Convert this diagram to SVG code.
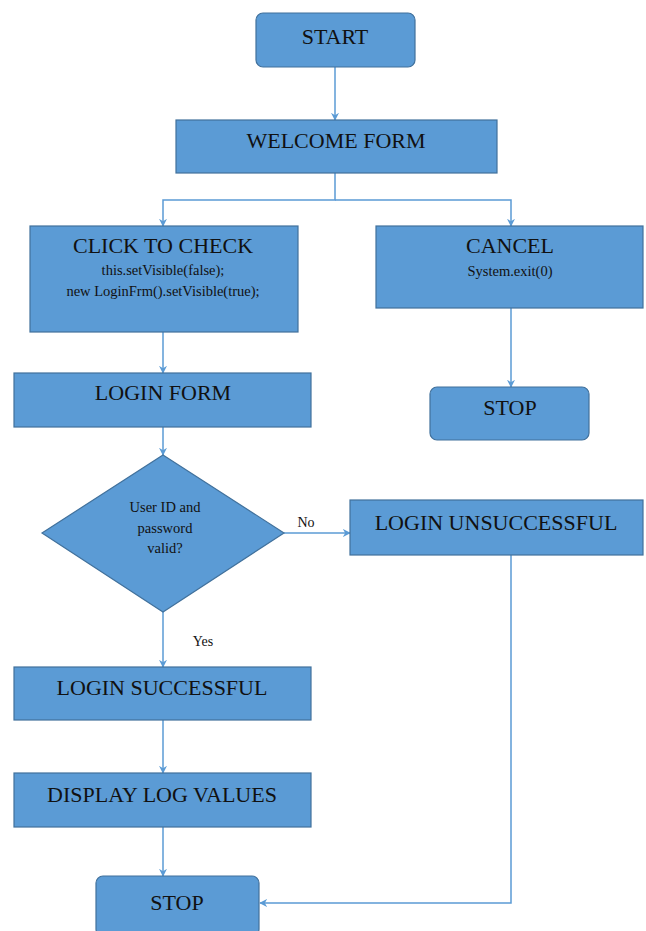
<svg xmlns="http://www.w3.org/2000/svg" width="646" height="931" viewBox="0 0 646 931">
<style>
.n{fill:#5b9bd5;stroke:#41719c;stroke-width:1.2}
.t{font-family:"Liberation Serif","Times New Roman",serif;font-size:22px;fill:#111;text-anchor:middle}
.c{font-family:"Liberation Serif","Times New Roman",serif;font-size:14.5px;fill:#111;text-anchor:middle}
.l{font-family:"Liberation Serif","Times New Roman",serif;font-size:14px;fill:#111;text-anchor:middle}
.e{fill:none;stroke:#5b9bd5;stroke-width:1.5}
</style>
<defs>
<marker id="a" viewBox="0 0 10 10" refX="9" refY="5" markerWidth="8" markerHeight="8" markerUnits="userSpaceOnUse" orient="auto">
<path d="M0,0 L10,5 L0,10 L3,5 z" fill="#5b9bd5"/>
</marker>
</defs>
<rect width="646" height="931" fill="#fff"/>
<g id="connectors">
<path class="e" d="M335,67 V120" marker-end="url(#a)"/>
<path class="e" d="M335,173 V200 H163 V226" marker-end="url(#a)"/>
<path class="e" d="M335,200 H511 V226" marker-end="url(#a)"/>
<path class="e" d="M511,308 V387" marker-end="url(#a)"/>
<path class="e" d="M163,332 V373" marker-end="url(#a)"/>
<path class="e" d="M163,427 V455" marker-end="url(#a)"/>
<path class="e" d="M284,533 H350" marker-end="url(#a)"/>
<path class="e" d="M163,612 V667" marker-end="url(#a)"/>
<path class="e" d="M163,720 V773" marker-end="url(#a)"/>
<path class="e" d="M163,827 V876" marker-end="url(#a)"/>
<path class="e" d="M511,555 V903 H260" marker-end="url(#a)"/>
<text class="l" x="306" y="527">No</text>
<text class="l" x="203" y="646">Yes</text>
</g>
<g id="start">
<rect class="n" x="256" y="13" width="159" height="54" rx="7"/>
<text class="t" x="335" y="44">START</text>
</g>
<g id="welcome">
<rect class="n" x="176" y="120" width="321" height="53"/>
<text class="t" x="336" y="148">WELCOME FORM</text>
</g>
<g id="click">
<rect class="n" x="30" y="226" width="268" height="106"/>
<text class="t" x="163" y="253">CLICK TO CHECK</text>
<text class="c" x="163" y="275">this.setVisible(false);</text>
<text class="c" x="163" y="296">new LoginFrm().setVisible(true);</text>
</g>
<g id="cancel">
<rect class="n" x="376" y="226" width="267" height="82"/>
<text class="t" x="510" y="253">CANCEL</text>
<text class="c" x="510" y="276">System.exit(0)</text>
</g>
<g id="stop1">
<rect class="n" x="430" y="387" width="159" height="53" rx="7"/>
<text class="t" x="510" y="415">STOP</text>
</g>
<g id="loginform">
<rect class="n" x="14" y="373" width="297" height="54"/>
<text class="t" x="163" y="400">LOGIN FORM</text>
</g>
<g id="decision">
<polygon class="n" points="163,455 284,533 163,612 42,533"/>
<text class="c" x="165" y="512">User ID and</text>
<text class="c" x="165" y="533">password</text>
<text class="c" x="165" y="553">valid?</text>
</g>
<g id="unsuccessful">
<rect class="n" x="350" y="500" width="293" height="55"/>
<text class="t" x="496" y="530">LOGIN UNSUCCESSFUL</text>
</g>
<g id="successful">
<rect class="n" x="14" y="667" width="297" height="53"/>
<text class="t" x="162" y="695">LOGIN SUCCESSFUL</text>
</g>
<g id="display">
<rect class="n" x="14" y="773" width="297" height="54"/>
<text class="t" x="162" y="802">DISPLAY LOG VALUES</text>
</g>
<g id="stop2">
<rect class="n" x="96" y="876" width="163" height="60" rx="7"/>
<text class="t" x="177" y="910">STOP</text>
</g>
</svg>
